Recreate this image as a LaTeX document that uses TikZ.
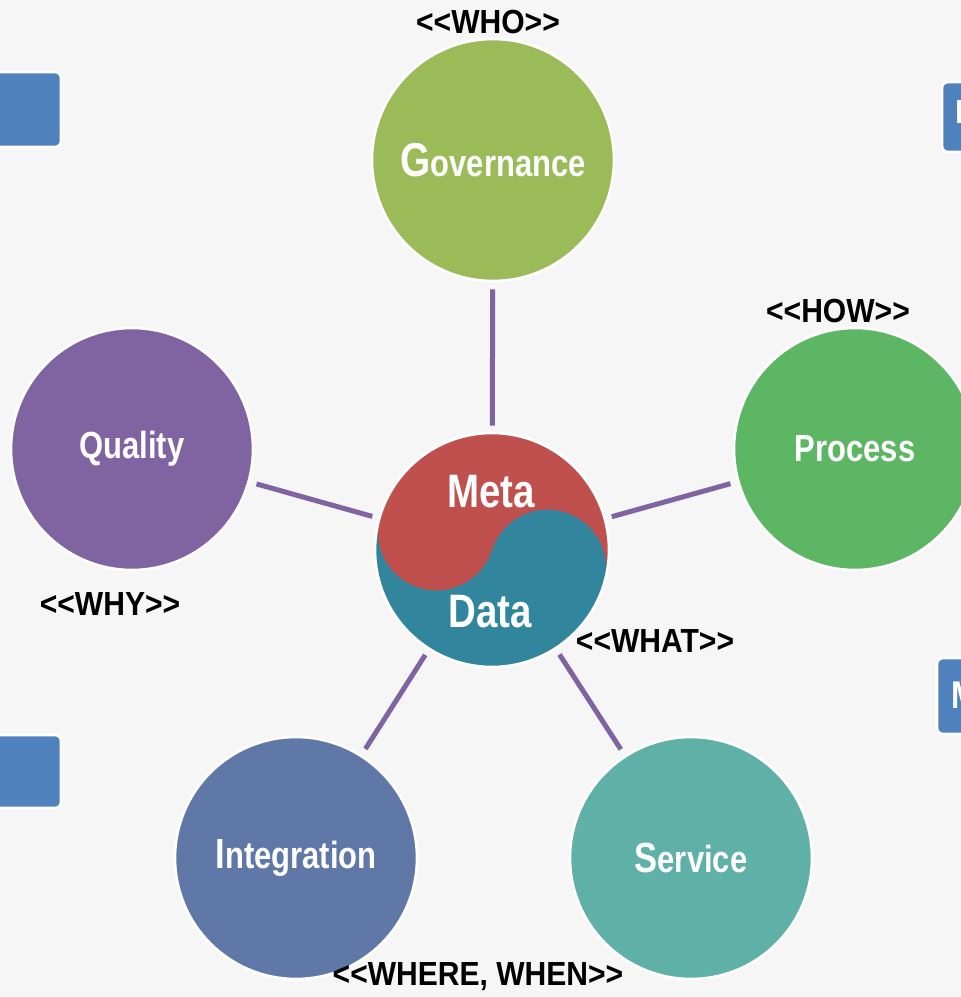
\documentclass[tikz,border=0pt]{standalone}
\usepackage{fontspec}
\newfontfamily\narrowsf{Liberation Sans}[FakeStretch=0.82]
\newfontfamily\labelsf{Liberation Sans}[FakeStretch=0.9]
\definecolor{govgreen}{HTML}{9BBB59}
\definecolor{procgreen}{HTML}{5CB663}
\definecolor{qualpurple}{HTML}{8064A2}
\definecolor{integblue}{HTML}{5F78A8}
\definecolor{servteal}{HTML}{5FB0A6}
\definecolor{metared}{HTML}{C0504D}
\definecolor{datateal}{HTML}{31859C}
\definecolor{boxblue}{HTML}{4F81BD}
\definecolor{bggray}{HTML}{F6F6F6}
\tikzset{
    topic/.style={circle, draw=white, line width=1.5pt, minimum size=4.84cm, inner sep=0pt,
        text=white, font=\narrowsf\bfseries\fontsize{21.5}{24}\selectfont},
    tag/.style={font=\labelsf\bfseries\fontsize{19}{22}\selectfont},
    link/.style={draw=qualpurple, line width=0.1cm, shorten <=0.14cm, shorten >=0.14cm},
    sidebox/.style={fill=boxblue, draw=white, line width=1.5pt, rounded corners=0.12cm}
}
\newcommand{\tagtext}[1]{\textless\textless#1\textgreater\textgreater}
\newcommand{\bigfirst}[2]{{\fontsize{#1}{#1}\selectfont #2}}

\begin{document}
\begin{tikzpicture}[x=0.2mm, y=0.2mm]
    \useasboundingbox (0, 0) rectangle (961, -997);
    \clip (0, 0) rectangle (961, -997);
    \fill[bggray] (0, 0) rectangle (961, -997);
    % half-hidden boxes at the edges
    \draw[sidebox] (-40, -72) rectangle (61, -147);
    \draw[sidebox] (-40, -735) rectangle (61, -808);
    \draw[sidebox] (942, -82) rectangle (1040, -152);
    \draw[sidebox] (937, -658) rectangle (1040, -734);
    \node[anchor=base west, inner sep=0pt, text=white, font=\narrowsf\bfseries\fontsize{19}{22}\selectfont] (boxd) at (955, -123) {D};
    \node[anchor=base west, inner sep=0pt, text=white, font=\narrowsf\bfseries\fontsize{22}{24}\selectfont] (boxm) at (951, -708) {M};
    % meta data centre
    \coordinate (mc) at (492, -550);
    \fill[datateal] (mc) circle[radius=117];
    \fill[metared] (mc) ++(-18:117) arc[start angle=-18, end angle=162, radius=117]
        arc[start angle=162, end angle=342, radius=58.5]
        arc[start angle=162, end angle=-18, radius=58.5] -- cycle;
    \draw[white, line width=1.5pt] (mc) circle[radius=117];
    \node[circle, minimum size=4.68cm, inner sep=0pt] (md) at (mc) {};
    \node[text=white, font=\narrowsf\bfseries\fontsize{26.7}{30}\selectfont] (meta) at (491, -492) {Meta};
    \node[text=white, font=\narrowsf\bfseries\fontsize{26.7}{30}\selectfont] (data) at (490, -612) {Data};
    % topics
    \node[topic, fill=govgreen] (gov) at (493, -160) {\bigfirst{27}{G}overnance};
    \node[topic, fill=procgreen] (proc) at (855, -449) {Process};
    \node[topic, fill=qualpurple] (qual) at (132, -449) {Quality};
    \node[topic, fill=integblue] (integ) at (296, -858) {\bigfirst{24}{I}ntegration};
    \node[topic, fill=servteal] (serv) at (691, -858) {\bigfirst{24}{S}ervice};
    \foreach \t in {gov, proc, qual, integ, serv}
        \draw[link] (\t) -- (md);
    % labels
    \node[tag] (who) at (488, -22) {\tagtext{WHO}};
    \node[tag] (how) at (838, -311) {\tagtext{HOW}};
    \node[tag] (why) at (110, -604) {\tagtext{WHY}};
    \node[tag] (what) at (655, -641) {\tagtext{WHAT}};
    \node[tag] (wherewhen) at (478, -977) {\tagtext{WHERE, WHEN}};
\end{tikzpicture}
\end{document}
